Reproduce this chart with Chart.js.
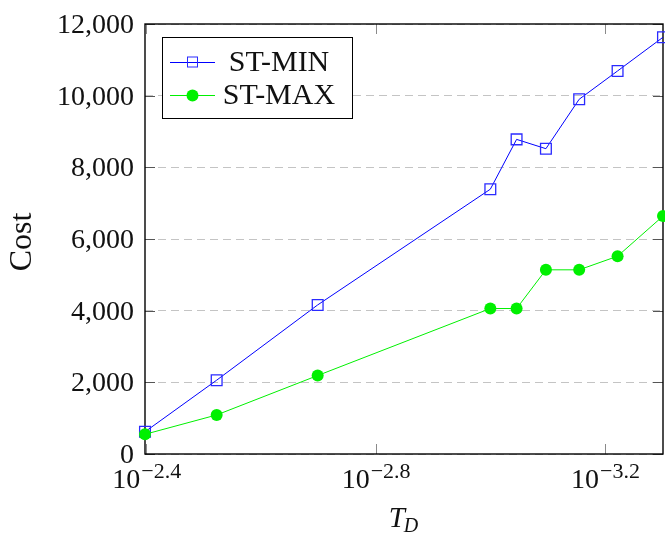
<!DOCTYPE html>
<html>
<head>
<meta charset="utf-8">
<script src="https://cdn.jsdelivr.net/npm/chart.js@4.4.1/dist/chart.umd.min.js"></script>
<style>
  html, body { margin: 0; padding: 0; background: #fff; }
  #wrap { width: 665px; height: 533px; }
</style>
</head>
<body>
<div id="wrap"><canvas id="chart-cost" width="665" height="533"></canvas></div>
<script>
// T_D values (x axis, log scale, decreasing to the right)
var tdValues = [0.004, 0.003, 0.002, 0.001, 0.0009, 0.0008, 0.0007, 0.0006, 0.0005];
var stMinCost = [620, 2060, 4160, 7390, 8780, 8520, 9900, 10690, 11630];
var stMaxCost = [550, 1090, 2190, 4060, 4060, 5140, 5140, 5520, 6640];
var xTickExps = [-2.4, -2.8, -3.2];
var yTickValues = [0, 2000, 4000, 6000, 8000, 10000, 12000];
var seriesNames = ['ST-MIN', 'ST-MAX'];

var FONT = '"Liberation Serif", "Times New Roman", serif';

function toPoints(xs, ys) {
  return xs.map(function(x, i) { return { x: x, y: ys[i] }; });
}

function strokeLine(ctx, x1, y1, x2, y2) {
  ctx.beginPath();
  ctx.moveTo(x1, y1);
  ctx.lineTo(x2, y2);
  ctx.stroke();
}

// pgfplots-like frame, inward ticks, labels and legend
var texAxes = {
  id: 'texAxes',
  beforeDatasetsDraw: function(chart) {
    var ctx = chart.ctx, a = chart.chartArea;
    var xs = chart.scales.x, ys = chart.scales.y;
    ctx.save();
    ctx.lineWidth = 1;
    ctx.strokeStyle = '#8a8a8a';
    xTickExps.forEach(function(e) {
      var px = Math.round(xs.getPixelForValue(Math.pow(10, e))) + 0.5;
      strokeLine(ctx, px, a.bottom, px, a.bottom - 10);
      strokeLine(ctx, px, a.top, px, a.top + 10);
    });
    ctx.strokeStyle = '#555';
    yTickValues.forEach(function(v) {
      var py = Math.round(ys.getPixelForValue(v)) + 0.5;
      strokeLine(ctx, a.left, py, a.left + 10, py);
      strokeLine(ctx, a.right, py, a.right - 10, py);
    });
    ctx.strokeStyle = '#000';
    ctx.lineWidth = 1.4;
    ctx.strokeRect(a.left, a.top, a.right - a.left, a.bottom - a.top);
    ctx.restore();
  },
  afterDraw: function(chart) {
    var ctx = chart.ctx, a = chart.chartArea;
    var xs = chart.scales.x, ys = chart.scales.y;
    ctx.save();
    ctx.fillStyle = '#111';

    // y tick labels
    ctx.font = '28px ' + FONT;
    ctx.textAlign = 'right';
    ctx.textBaseline = 'alphabetic';
    yTickValues.forEach(function(v) {
      ctx.fillText(v.toLocaleString('en-US'), a.left - 11, ys.getPixelForValue(v) + 9);
    });

    // x tick labels 10^e
    ctx.textAlign = 'left';
    xTickExps.forEach(function(e) {
      var base = '10', sup = '\u2212' + Math.abs(e).toFixed(1);
      ctx.font = '28px ' + FONT;
      var wb = ctx.measureText(base).width;
      ctx.font = '22px ' + FONT;
      var ws = ctx.measureText(sup).width;
      var cx = xs.getPixelForValue(Math.pow(10, e));
      var x0 = cx - (wb + ws) / 2;
      ctx.font = '28px ' + FONT;
      ctx.fillText(base, x0, a.bottom + 34);
      ctx.font = '22px ' + FONT;
      ctx.fillText(sup, x0 + wb + 1, a.bottom + 24);
    });

    // y title
    ctx.save();
    ctx.translate(23, (a.top + a.bottom) / 2 + 3);
    ctx.rotate(-Math.PI / 2);
    ctx.textAlign = 'center';
    ctx.textBaseline = 'middle';
    ctx.font = '32px ' + FONT;
    ctx.fillText('Cost', 0, 0);
    ctx.restore();

    // x title T_D
    ctx.font = 'italic 29px ' + FONT;
    var wt = ctx.measureText('T').width;
    ctx.font = 'italic 20px ' + FONT;
    var wd = ctx.measureText('D').width;
    var tx = (a.left + a.right) / 2 - (wt + wd) / 2;
    ctx.font = 'italic 29px ' + FONT;
    ctx.fillText('T', tx, 527);
    ctx.font = 'italic 20px ' + FONT;
    ctx.fillText('D', tx + wt - 1, 532);

    // legend
    var lx = 162, ly = 37, lw = 190, lh = 81;
    ctx.fillStyle = '#fff';
    ctx.fillRect(lx, ly, lw, lh);
    ctx.strokeStyle = '#000';
    ctx.lineWidth = 1;
    ctx.strokeRect(lx + 0.5, ly + 0.5, lw, lh);
    var rows = [62, 95];
    chart.data.datasets.forEach(function(ds, i) {
      var ry = rows[i];
      ctx.strokeStyle = ds.borderColor;
      ctx.lineWidth = 1;
      strokeLine(ctx, 170, ry + 0.5, 215, ry + 0.5);
      if (ds.pointStyle === 'rect') {
        ctx.strokeStyle = ds.pointBorderColor;
        ctx.strokeRect(187.5, ry - 5, 10, 10);
      } else {
        ctx.fillStyle = ds.pointBackgroundColor;
        ctx.beginPath();
        ctx.arc(192.5, ry + 0.5, 6, 0, Math.PI * 2);
        ctx.fill();
      }
      ctx.fillStyle = '#111';
      ctx.font = '30px ' + FONT;
      ctx.textAlign = 'center';
      ctx.textBaseline = 'middle';
      ctx.fillText(ds.label, 279, ry + 1);
    });
    ctx.restore();
  }
};

var chart = new Chart(document.getElementById('chart-cost').getContext('2d'), {
  type: 'line',
  data: {
    datasets: [{
      label: seriesNames[0],
      data: toPoints(tdValues, stMinCost),
      borderColor: '#0000ff',
      borderWidth: 1,
      pointStyle: 'rect',
      pointRadius: 7.6,
      pointBorderWidth: 1.3,
      pointBorderColor: '#2a2aff',
      pointBackgroundColor: 'rgba(0,0,0,0)',
      tension: 0,
      clip: false,
      order: 1
    }, {
      label: seriesNames[1],
      data: toPoints(tdValues, stMaxCost),
      borderColor: '#00f000',
      borderWidth: 1,
      pointStyle: 'circle',
      pointRadius: 6,
      pointBorderWidth: 0,
      pointBorderColor: '#00f000',
      pointBackgroundColor: '#00f000',
      tension: 0,
      clip: false,
      order: 0
    }]
  },
  options: {
    responsive: false,
    devicePixelRatio: 1,
    animation: false,
    layout: { autoPadding: false, padding: { left: 145, top: 24, right: 2, bottom: 79 } },
    plugins: { legend: { display: false }, tooltip: { enabled: false } },
    scales: {
      x: {
        type: 'logarithmic',
        reverse: true,
        min: 0.0005,
        max: 0.004,
        afterBuildTicks: function(scale) {
          scale.ticks = xTickExps.map(function(e) { return { value: Math.pow(10, e) }; });
        },
        afterFit: function(scale) { scale.height = 0; },
        ticks: { display: false },
        grid: { display: false },
        border: { display: false }
      },
      y: {
        type: 'linear',
        min: 0,
        max: 12000,
        afterBuildTicks: function(scale) {
          scale.ticks = yTickValues.map(function(v) { return { value: v }; });
        },
        afterFit: function(scale) { scale.width = 0; },
        ticks: { display: false },
        grid: { color: '#c4c4c4', lineWidth: 1, drawTicks: false },
        border: { display: false, dash: [8, 5] }
      }
    }
  },
  plugins: [texAxes]
});
</script>
</body>
</html>
